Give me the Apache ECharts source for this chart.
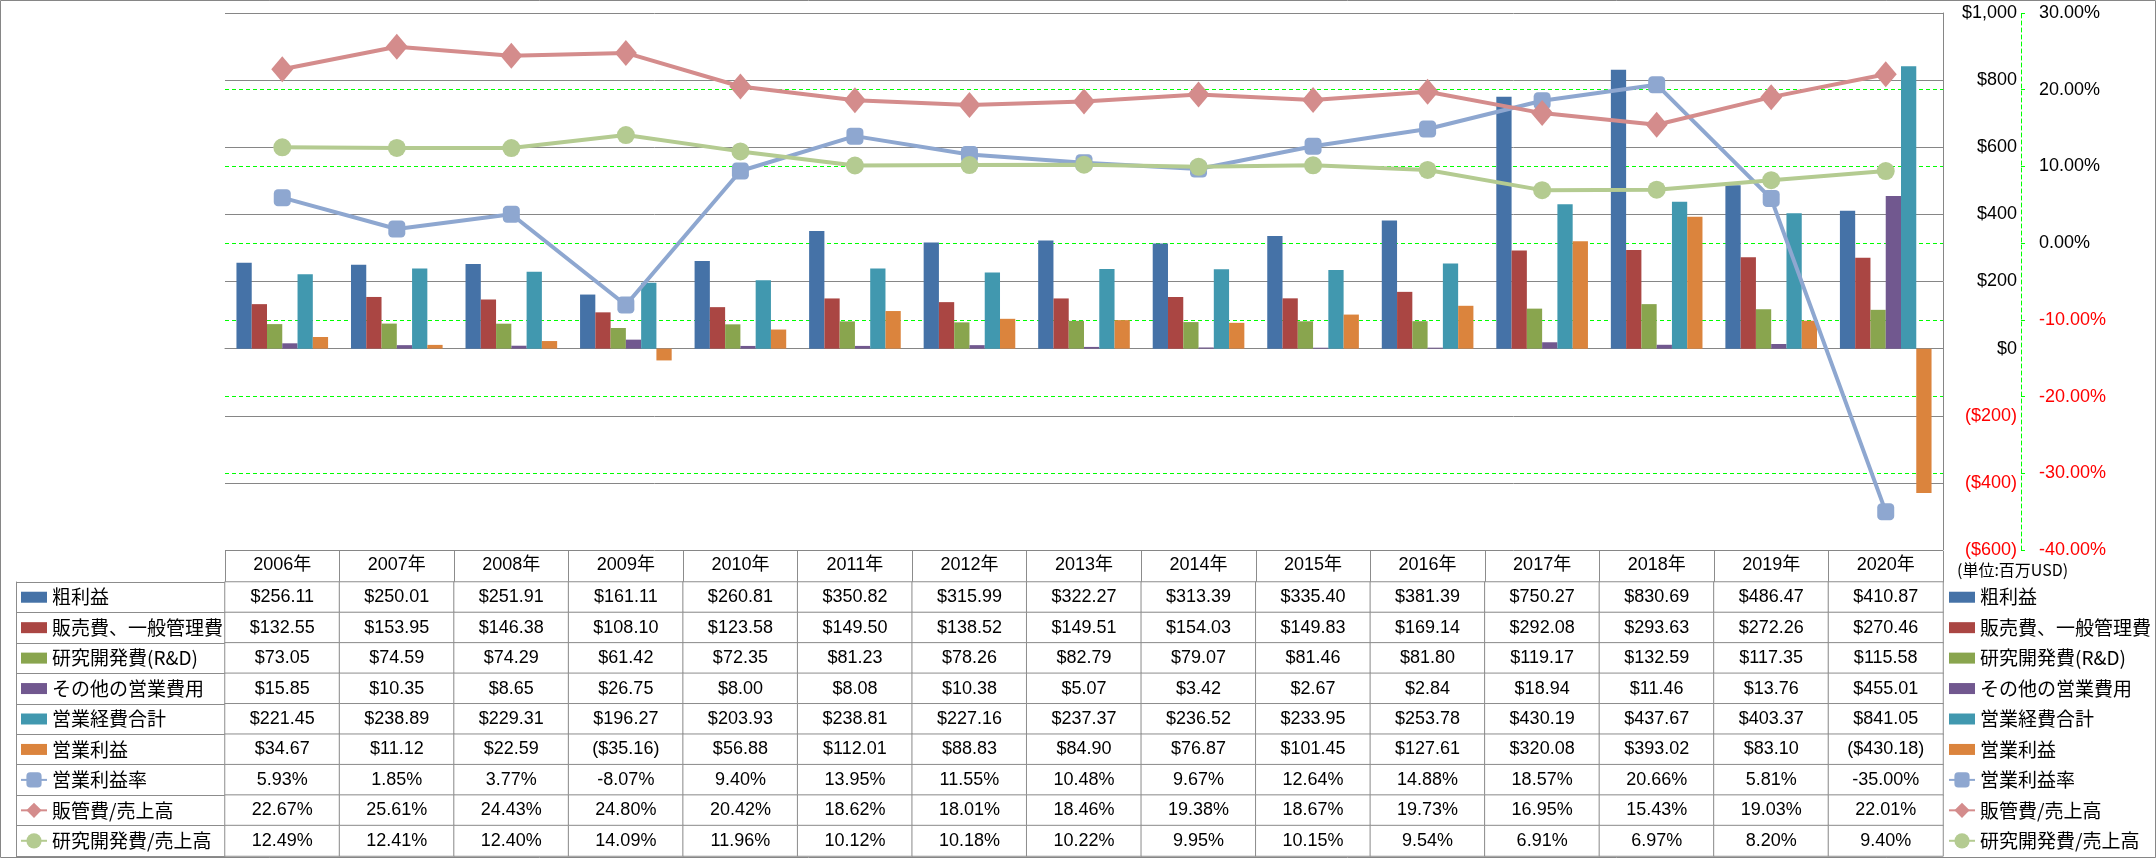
<!DOCTYPE html>
<html><head><meta charset="utf-8">
<script src="https://cdn.jsdelivr.net/npm/echarts@6/dist/echarts.min.js"></script>
<style>html,body{margin:0;padding:0;background:#fff}#c{width:2156px;height:858px}</style>
</head><body><div id="c"></div>
<script>
const years = ['2006年','2007年','2008年','2009年','2010年','2011年','2012年','2013年','2014年','2015年','2016年','2017年','2018年','2019年','2020年'];
const grossProfit = [256.11,250.01,251.91,161.11,260.81,350.82,315.99,322.27,313.39,335.40,381.39,750.27,830.69,486.47,410.87];
const sga = [132.55,153.95,146.38,108.10,123.58,149.50,138.52,149.51,154.03,149.83,169.14,292.08,293.63,272.26,270.46];
const rnd = [73.05,74.59,74.29,61.42,72.35,81.23,78.26,82.79,79.07,81.46,81.80,119.17,132.59,117.35,115.58];
const otherOpex = [15.85,10.35,8.65,26.75,8.00,8.08,10.38,5.07,3.42,2.67,2.84,18.94,11.46,13.76,455.01];
const totalOpex = [221.45,238.89,229.31,196.27,203.93,238.81,227.16,237.37,236.52,233.95,253.78,430.19,437.67,403.37,841.05];
const opIncome = [34.67,11.12,22.59,-35.16,56.88,112.01,88.83,84.90,76.87,101.45,127.61,320.08,393.02,83.10,-430.18];
const opMargin = [5.93,1.85,3.77,-8.07,9.40,13.95,11.55,10.48,9.67,12.64,14.88,18.57,20.66,5.81,-35.00];
const sgaRatio = [22.67,25.61,24.43,24.80,20.42,18.62,18.01,18.46,19.38,18.67,19.73,16.95,15.43,19.03,22.01];
const rndRatio = [12.49,12.41,12.40,14.09,11.96,10.12,10.18,10.22,9.95,10.15,9.54,6.91,6.97,8.20,9.40];
const seriesNames = ['粗利益','販売費、一般管理費','研究開発費(R&D)','その他の営業費用','営業経費合計','営業利益','営業利益率','販管費/売上高','研究開発費/売上高'];
const unitLabel = '(単位:百万USD)';

const barColors = ['#4572A7','#AA4643','#89A54E','#71588F','#4198AF','#DB843D'];
const lineColors = ['#8EA7D0','#D48C8C','#B4CB91'];
const barData = [grossProfit, sga, rnd, otherOpex, totalOpex, opIncome];
const lineData = [opMargin, sgaRatio, rndRatio];
const tableRows = [grossProfit, sga, rnd, otherOpex, totalOpex, opIncome, opMargin, sgaRatio, rndRatio];
const numFont = 'Liberation Sans, Noto Sans CJK JP, sans-serif';
const cjkFont = 'Noto Sans CJK JP, sans-serif';
const gridGray = '#868686';
const tblGray = '#8C8C8C';

function fmtMoney(v){ return v < 0 ? '($' + Math.abs(v).toFixed(2) + ')' : '$' + v.toFixed(2); }
function fmtPct(v){ return v.toFixed(2) + '%'; }
function fmtAxisMoney(v){ v = Number(v); const s = '$' + Math.abs(v).toLocaleString('en-US'); return v < 0 ? '(' + s + ')' : s; }

const series = [];
barData.forEach((d, i) => {
  series.push({
    name: seriesNames[i], type: 'bar', xAxisIndex: 0, yAxisIndex: 0, data: d,
    barGap: '0%', barCategoryGap: '20%', itemStyle: { color: barColors[i] }, z: 2
  });
});
const lineSymbols = ['roundRect', 'diamond', 'circle'];
const lineSizes = [17, [22, 26], 18];
lineData.forEach((d, i) => {
  series.push({
    name: seriesNames[6 + i], type: 'line', xAxisIndex: 0, yAxisIndex: 1, data: d,
    symbol: lineSymbols[i], symbolSize: lineSizes[i], showAllSymbol: true,
    lineStyle: { color: lineColors[i], width: 4 }, itemStyle: { color: lineColors[i] }, z: 5
  });
});
const cells = [];
tableRows.forEach((row, r) => row.forEach((v, c) => cells.push([c, r, v])));
series.push({
  name: 'table', type: 'heatmap', xAxisIndex: 1, yAxisIndex: 2, data: cells,
  itemStyle: { color: '#ffffff', borderColor: tblGray, borderWidth: 1 },
  emphasis: { disabled: true },
  label: { show: true, color: '#000', fontSize: 18, fontFamily: numFont,
    formatter: p => p.value[1] >= 6 ? fmtPct(p.value[2]) : fmtMoney(p.value[2]) }
});

const barIcon = 'path://M0,0H26V11H0Z';
const legendData = seriesNames.map((n, i) => i < 6 ? { name: n, icon: barIcon } : { name: n });
const rowPitch = 274 / 9;
const itemH = 19;
function legendCfg(left){
  return {
    left: left, top: 582 + rowPitch / 2 - itemH / 2, height: 300, orient: 'vertical', padding: 0,
    itemWidth: 26, itemHeight: itemH, itemGap: rowPitch - itemH, selectedMode: false,
    data: legendData,
    textStyle: { fontSize: 19, lineHeight: itemH, fontFamily: cjkFont, color: '#000' }
  };
}

const chart = echarts.init(document.getElementById('c'), null, { renderer: 'canvas' });
chart.setOption({
  animation: false,
  backgroundColor: '#fff',
  title: { text: unitLabel, left: 1957, top: 562, padding: 0, textStyle: { fontSize: 16, fontWeight: 'normal', fontFamily: cjkFont, color: '#000' } },
  legend: [legendCfg(20), legendCfg(1948)],
  graphic: [{ type: 'rect', shape: { x: 0.5, y: 0.5, width: 2155, height: 857 }, style: { fill: 'none', stroke: gridGray, lineWidth: 1 }, silent: true }],
  grid: [
    { show: false, left: 225, right: 213, top: 13, bottom: 308 },
    { show: false, left: 225, right: 213, top: 582, bottom: 2 }
  ],
  xAxis: [
    { type: 'category', gridIndex: 0, data: years, axisLine: { onZero: true, lineStyle: { color: gridGray } },
      axisTick: { show: false }, axisLabel: { show: false }, splitLine: { show: false }, splitArea: { show: false } },
    { type: 'category', gridIndex: 1, data: years, position: 'top',
      axisLine: { onZero: false, lineStyle: { color: tblGray } },
      axisTick: { show: true, length: 31, interval: 0, lineStyle: { color: tblGray } },
      splitLine: { show: false },
      axisLabel: { show: true, interval: 0, margin: 8, fontSize: 18, color: '#000', fontFamily: numFont } }
  ],
  yAxis: [
    { type: 'value', gridIndex: 0, position: 'right', min: -600, max: 1000, interval: 200,
      axisLine: { show: true, onZero: false, lineStyle: { color: gridGray } }, axisTick: { show: false },
      splitLine: { show: true, lineStyle: { color: gridGray, width: 1 } },
      axisLabel: { align: 'right', margin: 74, fontSize: 18, fontFamily: numFont,
        formatter: fmtAxisMoney, color: v => Number(v) < 0 ? '#FF0000' : '#000' } },
    { type: 'value', gridIndex: 0, position: 'right', offset: 78, min: -40, max: 30, interval: 10,
      axisLine: { show: true, onZero: false, lineStyle: { color: '#00FF00', type: [4, 3] } },
      axisTick: { show: true, length: 4, lineStyle: { color: '#00FF00' } },
      splitLine: { show: true, showMinLine: false, showMaxLine: false, lineStyle: { color: '#00FF00', type: [4, 3], width: 1 } },
      axisLabel: { align: 'left', margin: 18, fontSize: 18, fontFamily: numFont,
        formatter: v => Number(v).toFixed(2) + '%', color: v => Number(v) < 0 ? '#FF0000' : '#000' } },
    { type: 'category', gridIndex: 1, data: seriesNames, inverse: true, position: 'left',
      axisLine: { show: true, onZero: false, lineStyle: { color: tblGray } },
      axisTick: { show: true, length: 209, interval: 0, lineStyle: { color: tblGray } },
      axisLabel: { show: false }, splitLine: { show: false } },
    { type: 'category', gridIndex: 1, data: seriesNames, inverse: true, position: 'left', offset: 209,
      axisLine: { show: true, onZero: false, lineStyle: { color: tblGray } },
      axisTick: { show: false }, axisLabel: { show: false }, splitLine: { show: false } }
  ],
  series: series
});
</script></body></html>
